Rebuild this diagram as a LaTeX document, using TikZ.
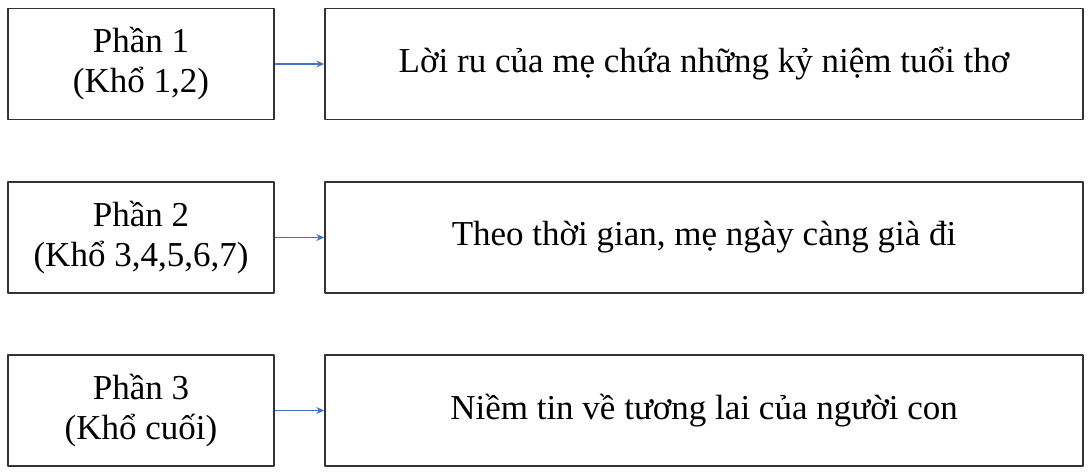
\documentclass[tikz,border=0pt]{standalone}
\usepackage{fontspec}
\setmainfont{Liberation Serif}
\usetikzlibrary{arrows.meta}
\definecolor{arrowblue}{HTML}{4472C4}
\tikzset{
  partbox/.style={draw=black!80, line width=1.4pt, minimum width=266pt, minimum height=111pt, align=center, inner sep=0pt},
  ideabox/.style={draw=black!80, line width=1.4pt, minimum width=758pt, minimum height=111pt, align=center, inner sep=0pt},
  link/.style={arrowblue, line width=1.2pt, -{Stealth[length=8pt,width=7pt]}}
}
\begin{document}
\begin{tikzpicture}[x=1pt, y=-1pt, font=\fontsize{35}{40}\selectfont, line join=round]
			\def\xl{141} \def\xr{704}
			\useasboundingbox (0,0) rectangle (1090,472);
			\node[partbox] (p1) at (\xl,64) {Phần 1\\(Khổ 1,2)};
			\node[partbox] (p2) at (\xl,237.5) {Phần 2\\(Khổ 3,4,5,6,7)};
			\node[partbox] (p3) at (\xl,410.5) {Phần 3\\(Khổ cuối)};
			\node[ideabox] (i1) at (\xr,64) {Lời ru của mẹ chứa những kỷ niệm tuổi thơ};
			\node[ideabox] (i2) at (\xr,237.5) {Theo thời gian, mẹ ngày càng già đi};
			\node[ideabox] (i3) at (\xr,410.5) {Niềm tin về tương lai của người con};
			\foreach \n in {1,2,3}
			\draw[link] (p\n) -- (i\n);
			\end{tikzpicture}
\end{document}
